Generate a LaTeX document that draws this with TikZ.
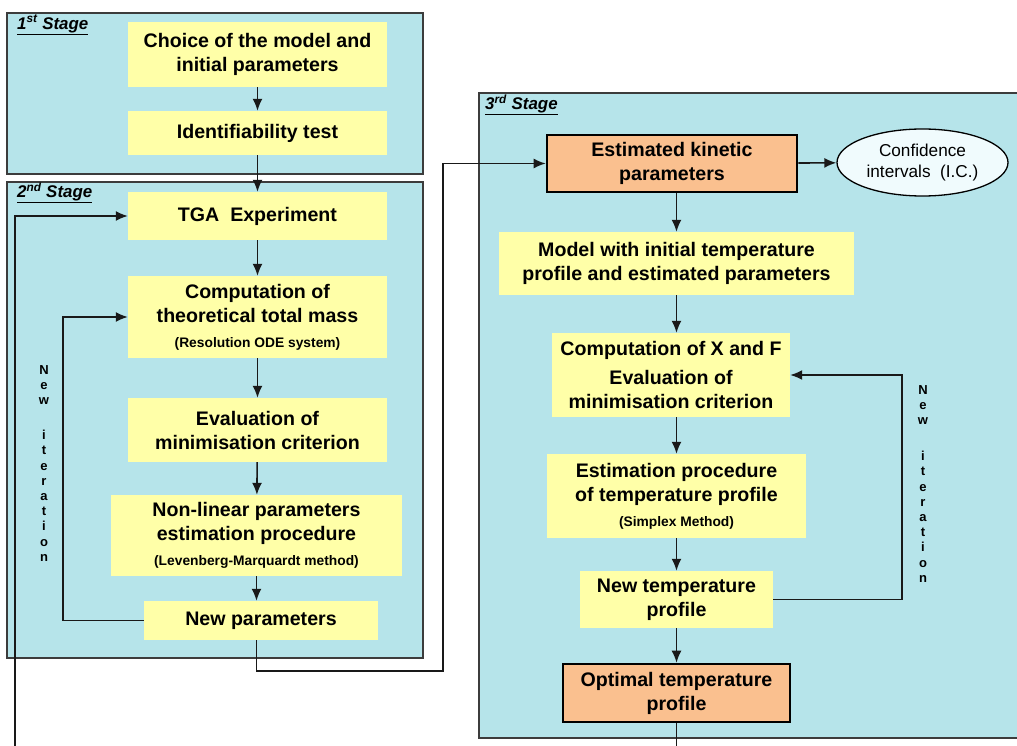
\documentclass[tikz,border=0pt]{standalone}
\usepackage{fontspec}
\setmainfont{Liberation Sans}
\usetikzlibrary{arrows.meta,shapes.geometric}

\definecolor{stagecyan}{RGB}{182,228,234}
\definecolor{boxyellow}{RGB}{255,255,168}
\definecolor{boxorange}{RGB}{250,192,143}
\definecolor{ovalfill}{RGB}{240,251,253}
\definecolor{framegray}{RGB}{60,60,60}

\newcommand{\subnote}[1]{{\fontsize{13.8}{16}\selectfont #1}}

\tikzset{
  stagebox/.style={draw=framegray, line width=1.6pt, fill=stagecyan},
  stagelabel/.style={anchor=west, inner sep=0pt, font=\bfseries\itshape\fontsize{16.9}{18}\selectfont},
  stepbox/.style={fill=boxyellow, inner sep=0pt, align=center, font=\bfseries\fontsize{19.6}{24}\selectfont},
  keybox/.style={stepbox, fill=boxorange, draw=black, line width=2.6pt},
  link/.style={line width=1.6pt, draw=black!90},
  flow/.style={link, -{Latex[length=12pt,width=10pt]}},
  iterlabel/.style={anchor=north, inner sep=0pt, align=center, font=\bfseries\fontsize{13}{15.2}\selectfont},
}

\begin{document}
\begin{tikzpicture}[x=1pt,y=-1pt]
        \useasboundingbox (0,0) rectangle (1017,746);
        \clip (0,0) rectangle (1017,746);
        % the three stages
        \draw[stagebox] (7,13) rectangle (423,174);
        \draw[stagebox] (7,182) rectangle (423,658);
        \draw[stagebox] (479,93) rectangle (1040,738);
        \node[stagelabel] (s1) at (17,25) {\underline{1\textsuperscript{st} Stage}};
        \node[stagelabel] (s2) at (17,193) {\underline{2\textsuperscript{nd} Stage}};
        \node[stagelabel] (s3) at (485,105) {\underline{3\textsuperscript{rd} Stage}};
        % 1st stage
        \node[stepbox, minimum width=259, minimum height=65] (choice) at (257.5,54.5) {Choice of the model and\\initial parameters};
        \node[stepbox, minimum width=259, minimum height=44] (ident) at (257.5,133) {Identifiability test};
        % 2nd stage
        \node[stepbox, minimum width=259, minimum height=48] (tga) at (257.5,216) {TGA\ \ Experiment};
        \node[stepbox, minimum width=259, minimum height=82] (mass) at (257.5,317) {Computation of\\theoretical total mass\\[1pt]\subnote{(Resolution ODE system)}};
        \node[stepbox, minimum width=259, minimum height=64] (crit) at (257.5,430) {Evaluation of\\minimisation criterion};
        \node[stepbox, minimum width=291, minimum height=81] (lm) at (256.5,535.5) {Non-linear parameters\\estimation procedure\\[1pt]\subnote{(Levenberg-Marquardt method)}};
        \node[stepbox, minimum width=234, minimum height=39] (newpar) at (261,620.5) {New parameters};
        \node[iterlabel] (it2) at (44,365) {N\\e\\w\\[20pt]i\\t\\e\\r\\a\\t\\i\\o\\n};
        % 3rd stage
        \node[keybox, minimum width=250, minimum height=57] (kin) at (672,163.5) {Estimated kinetic\\parameters};
        \node[ellipse, draw, fill=ovalfill, line width=1.3pt, minimum width=171, minimum height=67, inner sep=0pt, align=center, font=\fontsize{17.2}{20.5}\selectfont] (ci) at (922.5,162.5) {Confidence\\intervals\ \ (I.C.)};
        \node[stepbox, minimum width=355, minimum height=63] (model) at (676.5,263.5) {Model with initial temperature\\profile and estimated parameters};
        \node[stepbox, minimum width=238, minimum height=84] (xf) at (671,375) {Computation of X and F\\[5pt]Evaluation of\\minimisation criterion};
        \node[stepbox, minimum width=259, minimum height=84] (simplex) at (676.5,496) {Estimation procedure\\of temperature profile\\[1pt]\subnote{(Simplex Method)}};
        \node[stepbox, minimum width=193, minimum height=57] (newT) at (676.5,599.5) {New temperature\\profile};
        \node[keybox, minimum width=227, minimum height=58] (optT) at (676.5,693) {Optimal temperature\\profile};
        \node[iterlabel] (it3) at (923,385) {N\\e\\w\\[21pt]i\\t\\e\\r\\a\\t\\i\\o\\n};
        % free ends
        \coordinate (loopstart) at (15,750);
        \coordinate (hop) at (443,671);
        \coordinate (tail) at (676.5,750);
        % connectors
        \draw[flow] (choice) -- (ident);
        \draw[flow] (ident) -- (tga);
        \draw[flow] (tga) -- (mass);
        \draw[flow] (mass) -- (crit);
        \draw[flow] (crit) -- (lm);
        \draw[flow] (lm.south) -- (lm.south |- newpar.north);
        \draw[flow] (newpar.west) -- ++(-81,0) |- (mass.west);
        \draw[flow] (loopstart) |- (tga.west);
        \draw[flow] (lm.south |- newpar.south) |- (hop) |- (kin.west);
        \draw[flow] (kin) -- (ci);
        \draw[flow] (model.north |- kin.south) -- (model.north);
        \draw[flow] (model.south) -- (model.south |- xf.north);
        \draw[flow] (simplex.north |- xf.south) -- (simplex.north);
        \draw[flow] (simplex) -- (newT);
        \draw[flow] (newT) -- (optT);
        \draw[flow] (newT.east) -- ++(129,0) |- (xf.east);
        \draw[link] (optT.south) -- (tail);
      \end{tikzpicture}
\end{document}
